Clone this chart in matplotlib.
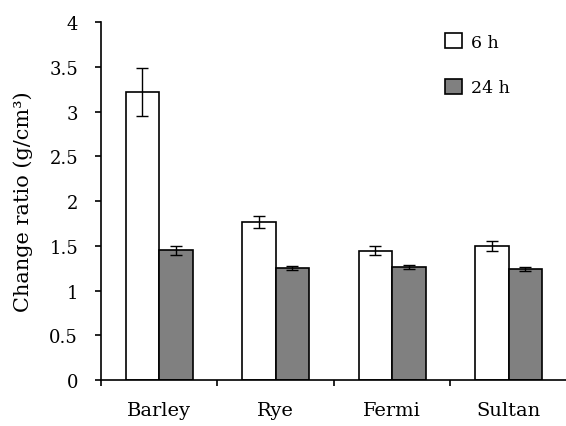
import matplotlib
matplotlib.use("Agg")

import matplotlib.pyplot as plt
import numpy as np

categories = ["Barley", "Rye", "Fermi", "Sultan"]
series_labels = ["6 h", "24 h"]
values_6h = [3.22, 1.765, 1.445, 1.495]
errors_6h = [0.27, 0.065, 0.05, 0.055]
values_24h = [1.45, 1.25, 1.26, 1.24]
errors_24h = [0.05, 0.02, 0.025, 0.02]
y_ticks = [0, 0.5, 1, 1.5, 2, 2.5, 3, 3.5, 4]

plt.rcParams["font.family"] = ["DejaVu Serif"]
plt.rcParams["font.size"] = 12

fig = plt.figure(figsize=(5.66, 4.27), dpi=100)
ax = fig.add_axes([0.1784, 0.1077, 0.823, 0.8384])

x = np.arange(len(categories)) + 0.5
width = 0.288
bar_kw = dict(edgecolor="black", linewidth=1.2)
err_kw = dict(ecolor="black", elinewidth=1.0, capsize=4, capthick=1.0)

ax.bar(x - width / 2, values_6h, width, color="white", yerr=errors_6h,
       error_kw=err_kw, label=series_labels[0], **bar_kw)
ax.bar(x + width / 2, values_24h, width, color="#808080", yerr=errors_24h,
       error_kw=err_kw, label=series_labels[1], **bar_kw)

ax.set_xlim(0, len(categories))
ax.set_ylim(0, 4)
ax.set_yticks(y_ticks)
ax.set_yticklabels([f"{t:g}" for t in y_ticks], fontsize=13)
ax.set_xticks(np.arange(len(categories) + 1))
ax.set_xticklabels([])
ax.set_xticks(x, minor=True)
ax.set_xticklabels(categories, minor=True, fontsize=14)
ax.tick_params(axis="x", which="minor", length=0, pad=15)
ax.tick_params(axis="both", which="major", direction="out", length=4.5,
               width=1.2)
ax.tick_params(axis="y", which="major", pad=12)

for side in ["top", "right"]:
    ax.spines[side].set_visible(False)
for side in ["left", "bottom"]:
    ax.spines[side].set_linewidth(1.2)

ax.set_ylabel("Change ratio (g/cm³)", fontsize=15)
ax.yaxis.set_label_coords(-0.1455, 0.5)

ax.legend(loc="upper left", bbox_to_anchor=(0.706, 1.012), frameon=False,
          fontsize=12.5, handlelength=0.95, handleheight=0.95,
          handletextpad=0.5, labelspacing=1.6)

plt.savefig("out.png", dpi=100)
plt.close()
